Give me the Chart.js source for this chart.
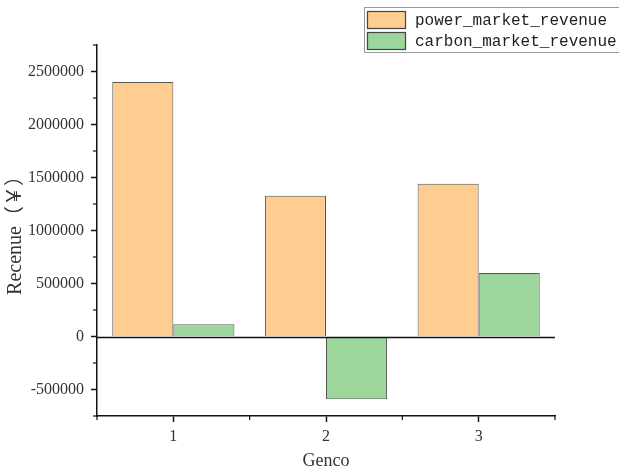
<!DOCTYPE html>
<html>
<head>
<meta charset="utf-8">
<script src="https://cdn.jsdelivr.net/npm/chart.js@4/dist/chart.umd.min.js"></script>
<style>
html,body{margin:0;padding:0;background:#fff;}
canvas{display:block;}
</style>
</head>
<body>
<canvas id="c" width="619" height="470"></canvas>
<script>
// ---- data ----
const categories = ['1', '2', '3'];
const seriesNames = ['power_market_revenue', 'carbon_market_revenue'];
const powerRevenue = [2400000, 1327000, 1440000];
const carbonRevenue = [116000, -593000, 599000];
const yMajorTicks = [-500000, 0, 500000, 1000000, 1500000, 2000000, 2500000];
const yMinorTicks = [-750000, -250000, 250000, 750000, 1250000, 1750000, 2250000, 2750000];
const yMin = -750000, yMax = 2750000;
const xTitle = 'Genco';
const yTitle = 'Recenue（￥）';

const colors = ['#FFCC91', '#9DD69A'];
const serif = "'Liberation Serif', 'Noto Sans CJK SC', serif";
const textColor = '#333';

const extrasPlugin = {
  id: 'extras',
  afterDatasetsDraw(chart) {
    const {ctx, chartArea, scales} = chart;
    const y = scales.y, x = scales.x;
    ctx.save();
    // zero line
    const y0 = Math.round(y.getPixelForValue(0)) + 0.5;
    ctx.strokeStyle = '#111';
    ctx.lineWidth = 1.5;
    ctx.beginPath();
    ctx.moveTo(chartArea.left, y0);
    ctx.lineTo(chartArea.right, y0);
    ctx.stroke();
    // minor y ticks
    ctx.lineWidth = 1.2;
    ctx.strokeStyle = '#111';
    yMinorTicks.forEach(v => {
      const py = y.getPixelForValue(v);
      ctx.beginPath();
      ctx.moveTo(chartArea.left - 4, py);
      ctx.lineTo(chartArea.left, py);
      ctx.stroke();
    });
    // minor x ticks at category boundaries
    for (let i = -0.5; i <= categories.length - 0.5; i += 1) {
      const px = x.getPixelForValue(i);
      ctx.beginPath();
      ctx.moveTo(px, chartArea.bottom);
      ctx.lineTo(px, chartArea.bottom + 4);
      ctx.stroke();
    }
    ctx.restore();
  },
  afterDraw(chart) {
    const {ctx} = chart;
    ctx.save();
    // legend box
    ctx.fillStyle = '#fff';
    ctx.fillRect(364, 7, 270, 46);
    ctx.strokeStyle = '#999';
    ctx.lineWidth = 1;
    ctx.strokeRect(364.5, 7.5, 270, 45);
    ctx.font = "16px 'Liberation Mono', monospace";
    ctx.textBaseline = 'middle';
    chart.data.datasets.forEach((ds, i) => {
      const top = 11 + i * 21;
      ctx.fillStyle = ds.backgroundColor;
      ctx.fillRect(367, top, 39, 18);
      ctx.strokeStyle = '#444';
      ctx.lineWidth = 1.2;
      ctx.strokeRect(367.5, top + 0.5, 38, 17);
      ctx.fillStyle = '#222';
      ctx.fillText(ds.label, 415, top + 9.5);
    });
    ctx.restore();
  }
};

new Chart(document.getElementById('c'), {
  type: 'bar',
  data: {
    labels: categories,
    datasets: [
      { label: seriesNames[0], data: powerRevenue, backgroundColor: colors[0], borderColor: '#555', borderWidth: 1 },
      { label: seriesNames[1], data: carbonRevenue, backgroundColor: colors[1], borderColor: '#555', borderWidth: 1 }
    ]
  },
  options: {
    responsive: false,
    animation: false,
    devicePixelRatio: 1,
    layout: { padding: { left: 0, top: 45, right: 64, bottom: 0 } },
    datasets: { bar: { categoryPercentage: 0.8, barPercentage: 1.0 } },
    plugins: { legend: { display: false }, tooltip: { enabled: false } },
    scales: {
      x: {
        type: 'category',
        offset: true,
        grid: { display: true, drawOnChartArea: false, offset: false, tickLength: 6, tickColor: '#111', tickWidth: 1.5 },
        border: { display: true, color: '#111', width: 1.5 },
        ticks: { color: textColor, font: { family: serif, size: 16 }, padding: 5, maxRotation: 0 },
        title: { display: true, text: xTitle, color: textColor, font: { family: serif, size: 18, lineHeight: 1 }, padding: { top: 0, bottom: 0 } },
        afterFit(scale) { scale.height = 54; }
      },
      y: {
        type: 'linear',
        min: yMin,
        max: yMax,
        afterBuildTicks(scale) { scale.ticks = yMajorTicks.map(v => ({ value: v })); },
        grid: { display: true, drawOnChartArea: false, tickLength: 6, tickColor: '#111', tickWidth: 1.5 },
        border: { display: true, color: '#111', width: 1.5 },
        ticks: { color: textColor, font: { family: serif, size: 16 }, padding: 7, callback: v => String(v) },
        title: { display: true, text: yTitle, color: textColor, font: { family: serif, size: 20 }, padding: { top: 4, bottom: 0 } },
        afterFit(scale) { scale.width = 97; }
      }
    }
  },
  plugins: [extrasPlugin]
});
</script>
</body>
</html>
